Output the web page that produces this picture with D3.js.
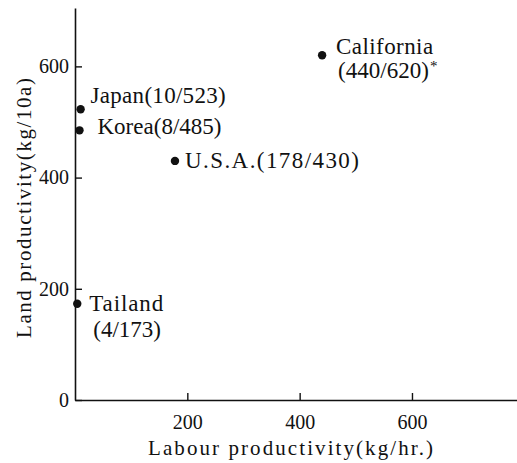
<!DOCTYPE html>
<html>
<head>
<meta charset="utf-8">
<script src="https://cdn.jsdelivr.net/npm/d3@7"></script>
<style>
  body { margin: 0; background: #fff; }
  svg { display: block; }
</style>
</head>
<body>
<svg id="chart" width="517" height="463"></svg>
<script>
// Rice productivity by region: labour (kg/hr.) vs land (kg/10a)
const regions     = ["Japan", "Korea", "U.S.A.", "Tailand", "California"];
const labourProd  = [10, 8, 178, 4, 440];     // kg/hr.
const landProd    = [523, 485, 430, 173, 620]; // kg/10a
const notes       = ["", "", "", "", "*"];
const xTickValues = [200, 400, 600];
const yTickValues = [0, 200, 400, 600];
const xTitle = "Labour productivity(kg/hr.)";
const yTitle = "Land productivity(kg/10a)";

// Label placement relative to each dot (two-line labels break before the value)
const labelLayout = [
  { dx: 10, dy: -6, split: false, widths: [135] },
  { dx: 18, dy: 4,  split: false, widths: [124] },
  { dx: 10, dy: 7,  split: false, widths: [174] },
  { dx: 12, dy: 7,  split: true,  widths: [74, 65], dx2: 16, lineGap: 26 },
  { dx: 14, dy: -1, split: true,  widths: [97, 88], dx2: 16, lineGap: 24 }
];

const serif = "'Liberation Serif', Tinos, 'Times New Roman', serif";
const svg = d3.select("#chart");
const ink = "#111";

// spread a text's letters so that it spans the given width
function fitWidth(sel, width) {
  const node = sel.node();
  const n = sel.text().length;
  const natural = node.getComputedTextLength();
  if (n > 1) sel.style("letter-spacing", Math.max(0, (width - natural) / (n - 1)) + "px");
  return sel;
}

const x = d3.scaleLinear().domain([0, 787]).range([75, 517]);
const y = d3.scaleLinear().domain([0, 705]).range([400, 8]);

// x axis with inward ticks
const gx = svg.append("g")
  .attr("transform", `translate(0,${y(0)})`)
  .call(d3.axisBottom(x).tickValues(xTickValues).tickSizeInner(-7).tickSizeOuter(0).tickPadding(15));

// y axis with inward ticks
const gy = svg.append("g")
  .attr("transform", `translate(${x(0)},0)`)
  .call(d3.axisLeft(y).tickValues(yTickValues).tickSizeInner(-7).tickSizeOuter(0).tickPadding(6));

[gx, gy].forEach(g => {
  g.select(".domain").attr("stroke", ink).attr("stroke-width", 1.6);
  g.selectAll(".tick line").attr("stroke", ink).attr("stroke-width", 1.4);
  g.selectAll(".tick text")
    .attr("fill", ink)
    .style("font-family", serif)
    .style("font-size", "20px");
});

// axis titles
fitWidth(svg.append("text")
  .attr("x", 148).attr("y", 455)
  .attr("fill", ink)
  .style("font-family", serif)
  .style("font-size", "21px")
  .text(xTitle), 285);

fitWidth(svg.append("text")
  .attr("transform", "translate(31,338) rotate(-90)")
  .attr("fill", ink)
  .style("font-family", serif)
  .style("font-size", "21px")
  .text(yTitle), 260);

// points and labels
const points = regions.map((r, i) => ({
  name: r, lx: labourProd[i], ly: landProd[i], note: notes[i], layout: labelLayout[i]
}));

const pg = svg.append("g");
pg.selectAll("circle")
  .data(points)
  .join("circle")
  .attr("cx", d => x(d.lx))
  .attr("cy", d => y(d.ly))
  .attr("r", 4.2)
  .attr("fill", ink);

points.forEach(d => {
  const L = d.layout;
  const cx = x(d.lx), cy = y(d.ly);
  const valueText = `(${d.lx}/${d.ly})`;
  const lines = L.split ? [d.name, valueText] : [d.name + valueText];
  lines.forEach((t, k) => {
    const tx = cx + (k === 0 ? L.dx : L.dx2);
    const ty = cy + L.dy + (k === 0 ? 0 : L.lineGap);
    fitWidth(pg.append("text")
      .attr("x", tx).attr("y", ty)
      .attr("fill", ink)
      .style("font-family", serif)
      .style("font-size", "23px")
      .text(t), L.widths[k]);
    if (k === lines.length - 1 && d.note) {
      pg.append("text")
        .attr("x", tx + L.widths[k] + 4).attr("y", ty - 7)
        .attr("fill", ink)
        .style("font-family", serif)
        .style("font-size", "15px")
        .text(d.note);
    }
  });
});
</script>
</body>
</html>
